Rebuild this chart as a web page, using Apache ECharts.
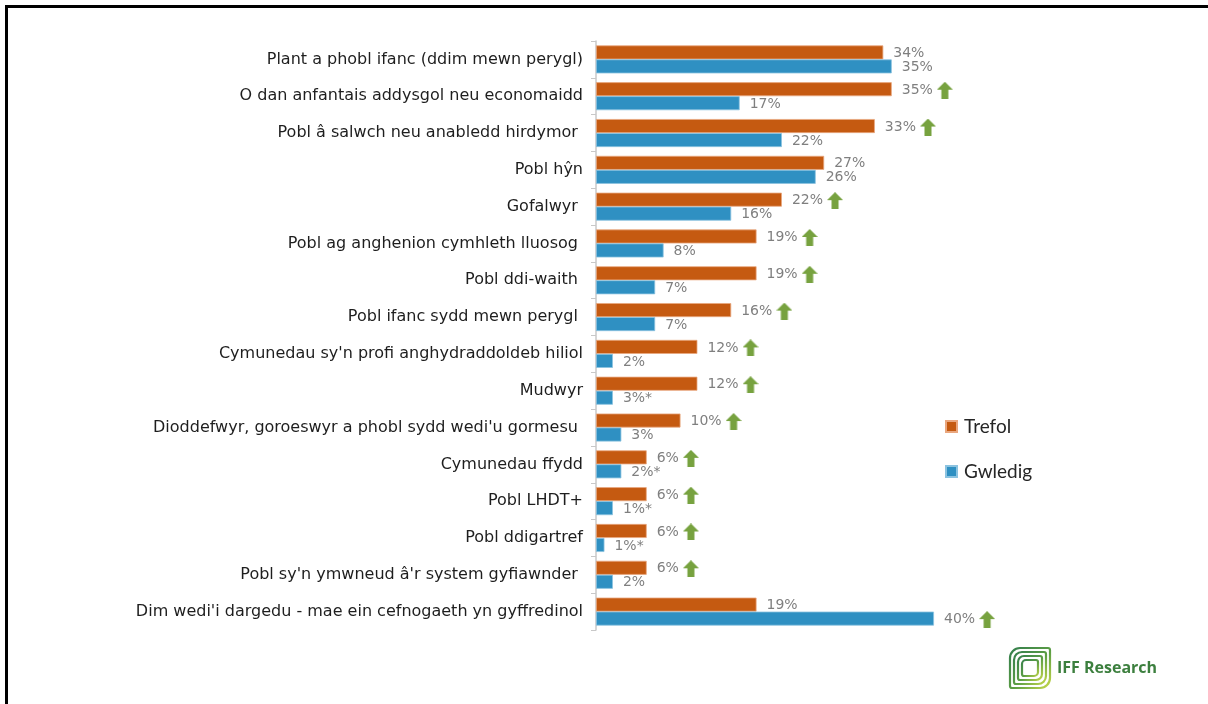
<!DOCTYPE html>
<html>
<head>
<meta charset="utf-8">
<script src="https://cdn.jsdelivr.net/npm/echarts@6/dist/echarts.min.js"></script>
<style>
  html, body { margin: 0; padding: 0; background: #fff; }
  #chart { width: 1208px; height: 704px; }
</style>
</head>
<body>
<div id="chart"></div>
<script>
const categories = [
  'Plant a phobl ifanc (ddim mewn perygl)',
  'O dan anfantais addysgol neu economaidd',
  'Pobl â salwch neu anabledd hirdymor ',
  'Pobl hŷn',
  'Gofalwyr ',
  'Pobl ag anghenion cymhleth lluosog ',
  'Pobl ddi-waith ',
  'Pobl ifanc sydd mewn perygl ',
  "Cymunedau sy'n profi anghydraddoldeb hiliol",
  'Mudwyr',
  "Dioddefwyr, goroeswyr a phobl sydd wedi'u gormesu ",
  'Cymunedau ffydd',
  'Pobl LHDT+',
  'Pobl ddigartref',
  "Pobl sy'n ymwneud â'r system gyfiawnder ",
  "Dim wedi'i dargedu - mae ein cefnogaeth yn gyffredinol"
];

// Trefol (urban)
const trefolValues = [34, 35, 33, 27, 22, 19, 19, 16, 12, 12, 10, 6, 6, 6, 6, 19];
const trefolLabels = ['34%', '35%', '33%', '27%', '22%', '19%', '19%', '16%', '12%', '12%', '10%', '6%', '6%', '6%', '6%', '19%'];
const trefolArrow = [0, 1, 1, 0, 1, 1, 1, 1, 1, 1, 1, 1, 1, 1, 1, 0];

// Gwledig (rural)
const gwledigValues = [35, 17, 22, 26, 16, 8, 7, 7, 2, 2, 3, 3, 2, 1, 2, 40];
const gwledigLabels = ['35%', '17%', '22%', '26%', '16%', '8%', '7%', '7%', '2%', '3%*', '3%', '2%*', '1%*', '1%*', '2%', '40%'];
const gwledigArrow = [0, 0, 0, 0, 0, 0, 0, 0, 0, 0, 0, 0, 0, 0, 0, 1];

const ORANGE = '#C55A11';
const BLUE = '#2F90C2';
const GREEN = '#77A23F';

// small green up-arrow drawn on a canvas, used as a rich-text background
const makeArrow = () => {
  const c = document.createElement('canvas');
  c.width = 16;
  c.height = 17;
  const ctx = c.getContext('2d');
  ctx.fillStyle = GREEN;
  ctx.beginPath();
  ctx.moveTo(8, 0);
  ctx.lineTo(16, 8);
  ctx.lineTo(11.5, 8);
  ctx.lineTo(11.5, 17);
  ctx.lineTo(4.5, 17);
  ctx.lineTo(4.5, 8);
  ctx.lineTo(0, 8);
  ctx.closePath();
  ctx.fill();
  return c;
};
const arrowImg = makeArrow();

const labelRich = {
  v: { color: '#7f7f7f', fontSize: 14, fontFamily: 'DejaVu Sans' },
  s: { width: 4 },
  a: { width: 16, height: 17, backgroundColor: { image: arrowImg } }
};

const makeLabel = (labels, arrows) => ({
  show: true,
  position: 'right',
  distance: 10,
  offset: [0, 1],
  formatter: (p) => '{v|' + labels[p.dataIndex] + '}' + (arrows[p.dataIndex] ? '{s|}{a|}' : ''),
  rich: labelRich
});

const chart = echarts.init(document.getElementById('chart'));

const logoX = 1010;
const logoY = 648;
const logoGrad = new echarts.graphic.LinearGradient(0, 0, 1, 1, [
  { offset: 0, color: '#2E7A4E' },
  { offset: 0.55, color: '#5E9F45' },
  { offset: 1, color: '#D4E04A' }
]);
const logoRings = [0, 4, 8, 12].map((d) => ({
  type: 'rect',
  shape: { x: logoX + d, y: logoY + d, width: 40 - 2 * d, height: 40 - 2 * d, r: [10 - d / 2, 2, 10 - d / 2, 2] },
  style: { fill: 'none', stroke: logoGrad, lineWidth: 2.2 }
}));

const option = {
  backgroundColor: '#fff',
  animation: false,
  grid: {
    left: 596,
    top: 41,
    width: 422.5,
    height: 589
  },
  legend: {
    orient: 'vertical',
    left: 940,
    top: 412,
    itemWidth: 11,
    itemHeight: 11,
    itemGap: 26,
    icon: 'rect',
    textStyle: { fontSize: 19, color: '#262626', fontFamily: 'Lato', padding: [0, 0, 0, 2] },
    data: ['Trefol', 'Gwledig']
  },
  xAxis: {
    type: 'value',
    min: 0,
    max: 50,
    show: false,
    splitLine: { show: false }
  },
  yAxis: {
    type: 'category',
    inverse: true,
    data: categories,
    axisLine: { lineStyle: { color: '#c8c8c8', width: 1.5 } },
    axisTick: { show: true, length: 5, lineStyle: { color: '#c8c8c8' } },
    axisLabel: {
      fontSize: 16,
      color: '#1e1e1e',
      fontFamily: 'DejaVu Sans',
      margin: 13
    }
  },
  series: [
    {
      name: 'Trefol',
      type: 'bar',
      data: trefolValues,
      barWidth: 14,
      barGap: '0%',
      itemStyle: { color: ORANGE, borderColor: '#E9A77F', borderWidth: 0.8 },
      label: makeLabel(trefolLabels, trefolArrow)
    },
    {
      name: 'Gwledig',
      type: 'bar',
      data: gwledigValues,
      barWidth: 14,
      barGap: '0%',
      itemStyle: { color: BLUE, borderColor: '#8CC3E0', borderWidth: 0.8 },
      label: makeLabel(gwledigLabels, gwledigArrow)
    }
  ],
  graphic: [
    // frame: top and left edges only
    { type: 'line', shape: { x1: 5, y1: 6.5, x2: 1208, y2: 6.5 }, style: { stroke: '#000', lineWidth: 3 } },
    { type: 'line', shape: { x1: 6.5, y1: 5, x2: 6.5, y2: 704 }, style: { stroke: '#000', lineWidth: 3 } },
    // logo
    ...logoRings,
    {
      type: 'rect',
      shape: { x: logoX + 14, y: logoY + 15, width: 12, height: 10 },
      style: { fill: '#fff' }
    },
    {
      type: 'text',
      left: 1057,
      top: 660,
      style: { text: 'IFF Research', fill: '#3C7F3E', fontSize: 16, fontWeight: 'bold', fontFamily: 'Open Sans' }
    }
  ]
};

chart.setOption(option);
</script>
</body>
</html>
